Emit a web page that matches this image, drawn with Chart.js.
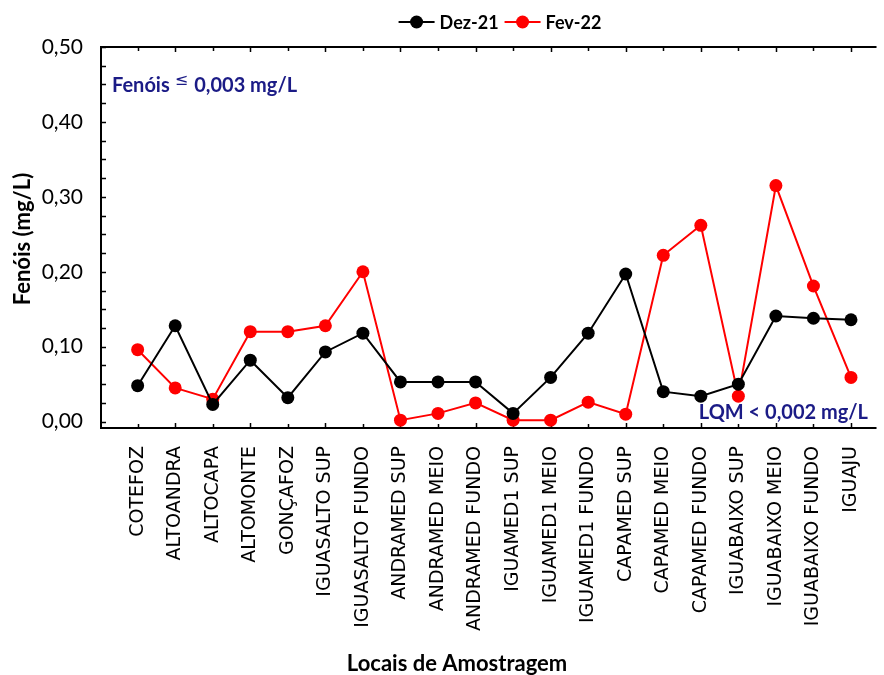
<!DOCTYPE html>
<html>
<head>
<meta charset="utf-8">
<script src="https://cdn.jsdelivr.net/npm/chart.js@4"></script>
<style>
  html, body { margin: 0; padding: 0; background: #fff; }
  #wrap { width: 884px; height: 675px; }
</style>
</head>
<body>
<div id="wrap"><canvas id="chart" width="884" height="675"></canvas></div>
<script>
// Fenóis por local de amostragem, campanhas Dez-21 e Fev-22.
const categories = [
    'COTEFOZ', 'ALTOANDRA', 'ALTOCAPA', 'ALTOMONTE', 'GONÇAFOZ',
    'IGUASALTO SUP', 'IGUASALTO FUNDO', 'ANDRAMED SUP', 'ANDRAMED MEIO', 'ANDRAMED FUNDO',
    'IGUAMED1 SUP', 'IGUAMED1 MEIO', 'IGUAMED1 FUNDO', 'CAPAMED SUP', 'CAPAMED MEIO',
    'CAPAMED FUNDO', 'IGUABAIXO SUP', 'IGUABAIXO MEIO', 'IGUABAIXO FUNDO', 'IGUAJU'
];
const dez21 = [0.048, 0.128, 0.023, 0.082, 0.032, 0.093, 0.118, 0.053, 0.053, 0.053,
               0.011, 0.059, 0.118, 0.197, 0.040, 0.034, 0.050, 0.141, 0.138, 0.136];
const fev22 = [0.096, 0.045, 0.030, 0.120, 0.120, 0.128, 0.200, 0.002, 0.011, 0.025,
               0.002, 0.002, 0.026, 0.010, 0.222, 0.262, 0.034, 0.315, 0.181, 0.059];
const yTicks = [0, 0.1, 0.2, 0.3, 0.4, 0.5];
const yMinorStep = 0.025;

const NAVY = '#1b1b86';
const LABEL_FONT = 'Lato, "Open Sans", sans-serif';
const CAT_FONT = '"DejaVu Sans", sans-serif';

function points(values) {
    return values.map(function (v, i) { return { x: i, y: v }; });
}

// Frame, inward ticks, legend, titles and notes (drawn like the original software output).
const decor = {
    id: 'decor',
    beforeDatasetsDraw: function (chart) {
        const ctx = chart.ctx, a = chart.chartArea;
        const xs = chart.scales.x, ys = chart.scales.y;
        ctx.save();
        ctx.strokeStyle = '#000';
        ctx.lineWidth = 2;
        ctx.beginPath();
        ctx.moveTo(a.right, a.top); ctx.lineTo(a.left, a.top);
        ctx.lineTo(a.left, a.bottom); ctx.lineTo(a.right, a.bottom);
        ctx.stroke();
        ctx.lineWidth = 1.5;
        ctx.beginPath();
        for (let v = 0; v <= 0.5 + 1e-9; v += yMinorStep) {
            const y = Math.round(ys.getPixelForValue(v)) + 0.5;
            ctx.moveTo(a.left, y); ctx.lineTo(a.left + 5, y);
        }
        categories.forEach(function (c, i) {
            const x = Math.round(xs.getPixelForValue(i)) + 0.5;
            const len = i % 2 === 1 ? 5 : 4;
            ctx.moveTo(x, a.top); ctx.lineTo(x, a.top + len);
            ctx.moveTo(x, a.bottom); ctx.lineTo(x, a.bottom - len);
        });
        ctx.stroke();
        ctx.restore();
    },
    afterDraw: function (chart) {
        const ctx = chart.ctx;
        ctx.save();
        // legend
        ctx.font = 'bold 18px ' + LABEL_FONT;
        ctx.textBaseline = 'middle';
        ctx.textAlign = 'left';
        const sets = chart.data.datasets;
        const lineW = 36, gap = 5, itemGap = 6;
        let total = 0;
        sets.forEach(function (d, k) {
            total += lineW + gap + ctx.measureText(d.label).width + (k ? itemGap : 0);
        });
        let x = 500 - total / 2;
        const ly = 22;
        sets.forEach(function (d, k) {
            if (k) x += itemGap;
            ctx.strokeStyle = d.borderColor;
            ctx.fillStyle = d.borderColor;
            ctx.lineWidth = 2;
            ctx.beginPath(); ctx.moveTo(x, ly); ctx.lineTo(x + lineW, ly); ctx.stroke();
            ctx.beginPath(); ctx.arc(x + lineW / 2, ly, 6.5, 0, Math.PI * 2); ctx.fill();
            x += lineW + gap;
            ctx.fillStyle = '#000';
            ctx.fillText(d.label, x, ly + 1);
            x += ctx.measureText(d.label).width;
        });
        // axis titles
        ctx.fillStyle = '#000';
        ctx.font = 'bold 22px ' + LABEL_FONT;
        ctx.textAlign = 'center';
        ctx.fillText('Locais de Amostragem', 457, 664);
        ctx.save();
        ctx.translate(23, 239);
        ctx.rotate(-Math.PI / 2);
        ctx.fillText('Fenóis (mg/L)', 0, 0);
        ctx.restore();
        // notes
        ctx.fillStyle = NAVY;
        ctx.textAlign = 'left';
        ctx.font = 'bold 20px ' + LABEL_FONT;
        let nx = 112;
        ctx.fillText('Fenóis', nx, 86);
        nx += ctx.measureText('Fenóis').width + 5;
        ctx.font = '16px "DejaVu Sans", sans-serif';
        ctx.fillText('≤', nx, 81);
        nx += ctx.measureText('≤').width + 6;
        ctx.font = 'bold 20px ' + LABEL_FONT;
        ctx.fillText('0,003 mg/L', nx, 86);
        ctx.textAlign = 'right';
        ctx.fillText('LQM < 0,002 mg/L', 868, 413);
        ctx.restore();
    }
};

new Chart(document.getElementById('chart').getContext('2d'), {
    type: 'line',
    data: {
        datasets: [
            { label: 'Dez-21', data: points(dez21), borderColor: '#000', backgroundColor: '#000' },
            { label: 'Fev-22', data: points(fev22), borderColor: '#ff0000', backgroundColor: '#ff0000' }
        ]
    },
    options: {
        responsive: false,
        animation: false,
        layout: { padding: { top: 47, left: 0, right: 0, bottom: 0 } },
        elements: {
            line: { borderWidth: 2, tension: 0 },
            point: { radius: 6.5, borderWidth: 0, hoverRadius: 6.5 }
        },
        plugins: { legend: { display: false }, tooltip: { enabled: false } },
        scales: {
            x: {
                type: 'linear',
                min: -0.976,
                max: 19.68,
                grid: { display: false },
                border: { display: false },
                afterBuildTicks: function (s) { s.ticks = categories.map(function (c, i) { return { value: i }; }); },
                afterFit: function (s) { s.height = 247; },
                ticks: {
                    autoSkip: false,
                    minRotation: 90,
                    maxRotation: 90,
                    padding: 10,
                    color: '#000',
                    font: { family: CAT_FONT, size: 19 },
                    callback: function (v) { return categories[v]; }
                }
            },
            y: {
                min: -0.0085,
                max: 0.5,
                grid: { display: false },
                border: { display: false },
                afterBuildTicks: function (s) { s.ticks = yTicks.map(function (v) { return { value: v }; }); },
                afterFit: function (s) { s.width = 101; },
                ticks: {
                    padding: 10,
                    color: '#000',
                    font: { family: LABEL_FONT, size: 21 },
                    callback: function (v) { return v.toFixed(2).replace('.', ','); }
                }
            }
        }
    },
    plugins: [decor]
});
</script>
</body>
</html>
